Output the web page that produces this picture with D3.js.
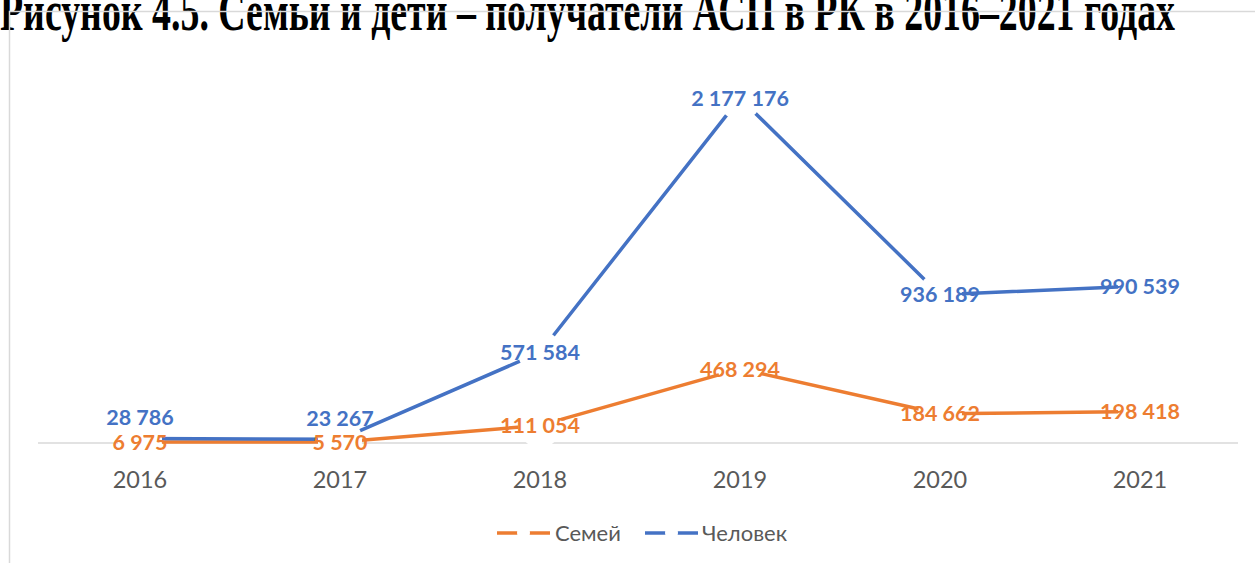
<!DOCTYPE html>
<html>
<head>
<meta charset="utf-8">
<script src="https://cdn.jsdelivr.net/npm/d3@7"></script>
<style>
  html, body { margin: 0; padding: 0; background: #fff; }
  svg { display: block; }
</style>
</head>
<body>
<svg id="chart" width="1255" height="563"></svg>
<script>
// ---- data ----
const years = ["2016", "2017", "2018", "2019", "2020", "2021"];
const families = [6975, 5570, 111054, 468294, 184662, 198418];     // Семей
const people = [28786, 23267, 571584, 2177176, 936189, 990539];    // Человек
const seriesNames = ["Семей", "Человек"];
const titleText = "Рисунок 4.5. Семьи и дети – получатели АСП в РК в 2016–2021 годах";

// ---- styles ----
const colors = { "Семей": "#ED7D31", "Человек": "#4472C4" };
const svg = d3.select("#chart");

// title (partially cut at the top)
svg.append("text")
  .attr("x", 0).attr("y", 0)
  .attr("transform", "translate(0,30) scale(1,1.45)")
  .attr("font-family", "'Liberation Serif', 'Times New Roman', serif")
  .attr("font-weight", "bold")
  .attr("font-size", 40)
  .attr("textLength", 1175)
  .attr("lengthAdjust", "spacingAndGlyphs")
  .attr("fill", "#000")
  .text(titleText);

// chart frame
svg.append("rect")
  .attr("x", 9.5).attr("y", 11.5)
  .attr("width", 1300).attr("height", 600)
  .attr("fill", "none").attr("stroke", "#d9d9d9").attr("stroke-width", 1.5);

const x = d3.scaleBand().domain(years).range([40, 1240]).padding(0);
const y = d3.scaleLinear().domain([0, 2500000]).range([443, 47]);
const cx = d => x(d) + x.bandwidth() / 2;

// axis
const axis = d3.axisBottom(x).tickSize(0).tickSizeOuter(0).tickPadding(28);
const gAxis = svg.append("g").attr("transform", "translate(0,443)").call(axis);
gAxis.select(".domain").attr("stroke", "#d9d9d9").attr("stroke-width", 1.5).attr("d", "M38,0H1238");
gAxis.selectAll("text")
  .attr("font-family", "Lato, 'Open Sans', sans-serif")
  .attr("font-size", 23.5)
  .attr("fill", "#595959");

const series = [
  { name: seriesNames[0], values: families },
  { name: seriesNames[1], values: people }
];

const line = d3.line().x((d, i) => cx(years[i])).y(d => y(d));

// lines
svg.append("g").selectAll("path").data(series).join("path")
  .attr("d", s => line(s.values))
  .attr("fill", "none")
  .attr("stroke", s => colors[s.name])
  .attr("stroke-width", 3.5)
  .attr("stroke-linejoin", "round");

// large white markers that break the lines
const markerR = 22;
series.forEach(s => {
  svg.append("g").selectAll("circle").data(s.values).join("circle")
    .attr("cx", (d, i) => cx(years[i]))
    .attr("cy", d => y(d))
    .attr("r", markerR)
    .attr("fill", "#fff");
});

// data labels
const fmt = v => d3.format(",")(v).replace(/,/g, " ");
series.forEach(s => {
  svg.append("g").selectAll("text").data(s.values).join("text")
    .attr("x", (d, i) => cx(years[i]))
    .attr("y", (d, i) => {
      let yy = y(d);
      if (s.name === "Человек") {
        const other = y(families[i]);
        if (Math.abs(other - yy) < 24) yy = yy - 21;
      }
      return yy;
    })
    .attr("dy", "0.36em")
    .attr("text-anchor", "middle")
    .attr("font-family", "Lato, 'Open Sans', sans-serif")
    .attr("font-weight", "bold")
    .attr("font-size", 21.5)
    .attr("fill", colors[s.name])
    .text(d => fmt(d));
});

// legend
const legendItems = [
  { name: seriesNames[0], x0: 497, tx: 555 },
  { name: seriesNames[1], x0: 645, tx: 702 }
];
const lg = svg.append("g");
legendItems.forEach(it => {
  lg.append("line")
    .attr("x1", it.x0).attr("x2", it.x0 + 53)
    .attr("y1", 533).attr("y2", 533)
    .attr("stroke", colors[it.name]).attr("stroke-width", 3.5);
  lg.append("circle")
    .attr("cx", it.x0 + 26.5).attr("cy", 533).attr("r", 6.5).attr("fill", "#fff");
  lg.append("text")
    .attr("x", it.tx).attr("y", 533).attr("dy", "0.36em")
    .attr("font-family", "Lato, 'Open Sans', sans-serif")
    .attr("font-size", 22)
    .attr("fill", "#595959")
    .text(it.name);
});
</script>
</body>
</html>
